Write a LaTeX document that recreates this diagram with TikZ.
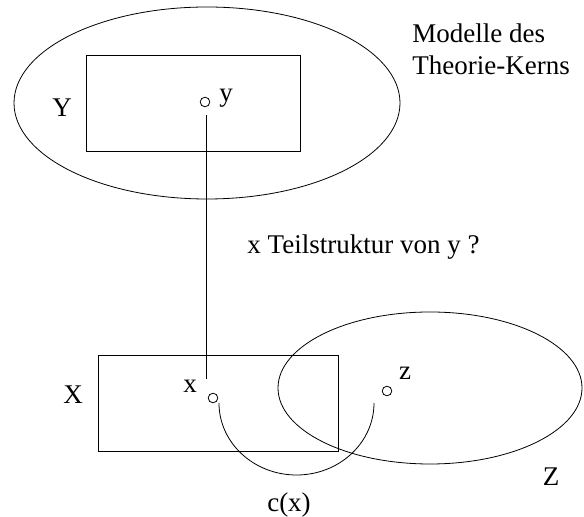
\documentclass[tikz,border=0pt]{standalone}
\usepackage{fontspec}
\setmainfont{Liberation Serif}
\usetikzlibrary{positioning}

\begin{document}
\begin{tikzpicture}[
    x=0.5pt, y=0.5pt,
    pt/.style={draw, circle, inner sep=0pt, minimum size=4.8pt},
    lbl/.style={inner sep=0pt, font=\fontsize{13.5}{16}\selectfont}
]
\useasboundingbox (0,0) rectangle (584,-517);

% Models of the theory core
\draw (207,-103) ellipse [x radius=193, y radius=96];
\draw (86,-55) rectangle (300,-151);
\node[pt] (y) at (205,-102) {};
\node[lbl] (ylbl) at (226,-98) {y};
\node[lbl] (Ylbl) at (62,-108) {Y};
\node[lbl, anchor=base west, align=left] (kern) at (412,-75) {Modelle des\\Theorie-Kerns};

% Substructure question
\coordinate (ydown) at (206,-115);
\coordinate (xup) at (206,-379);
\draw (ydown) -- (xup);
\node[lbl, anchor=base west] (frage) at (247,-254) {x Teilstruktur von y ?};

% Lower part
\draw (98,-355) rectangle (338,-451);
\draw (430,-388) ellipse [x radius=152, y radius=76];
\node[pt] (x) at (213,-398) {};
\node[pt] (z) at (387,-391) {};
\node[lbl] (xlbl) at (190,-386) {x};
\node[lbl] (zlbl) at (405,-373) {z};
\node[lbl] (Xlbl) at (73,-395) {X};
\node[lbl] (Zlbl) at (551,-477) {Z};

% c(x)
\coordinate (cstart) at (219,-403);
\draw (cstart) arc [start angle=180, end angle=360, x radius=77.5, y radius=72];
\node[lbl] (clbl) at (289,-505) {c(x)};

\end{tikzpicture}
\end{document}
